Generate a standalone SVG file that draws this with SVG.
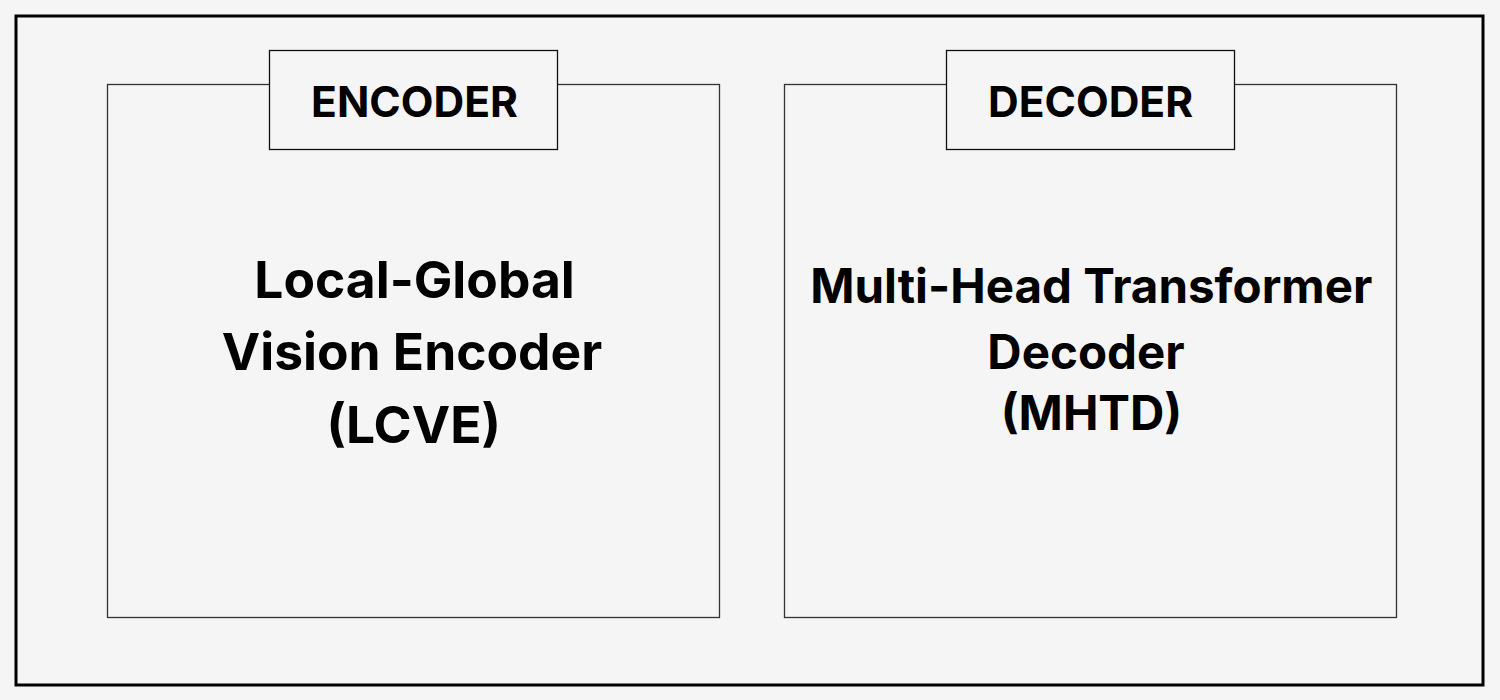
<svg xmlns="http://www.w3.org/2000/svg" width="1500" height="700" viewBox="0 0 1500 700">
<style>
.box{fill:none;stroke:#333;stroke-width:1.3}
.tag{fill:#f5f5f5;stroke:#111;stroke-width:1.3}
.t{font-family:Inter,"Liberation Sans",sans-serif;font-weight:700;fill:#000;text-anchor:middle}
.enc{font-size:51.5px}
.dec{font-size:47.5px}
.lab{font-size:42.5px}
</style>
<rect x="0" y="0" width="1500" height="700" fill="#f5f5f5"/>
<rect x="16" y="16" width="1467" height="669" fill="none" stroke="#000" stroke-width="3"/>
<g id="encoder">
<rect class="box" x="107.5" y="84.5" width="612" height="533"/>
<rect class="tag" x="269.5" y="50.5" width="288" height="99"/>
<text class="t lab" x="414.5" y="116.5">ENCODER</text>
<text class="t enc" x="414.5" y="298">Local-Global</text>
<text class="t enc" x="412" y="370">Vision Encoder</text>
<text class="t enc" x="413.7" y="443">(LCVE)</text>
</g>
<g id="decoder">
<rect class="box" x="784.5" y="84.5" width="612" height="533"/>
<rect class="tag" x="946.5" y="50.5" width="288" height="99"/>
<text class="t lab" x="1090.5" y="116.5">DECODER</text>
<text class="t dec" x="1091.3" y="303.3">Multi-Head Transformer</text>
<text class="t dec" x="1086" y="369.3">Decoder</text>
<text class="t dec" x="1091.5" y="430">(MHTD)</text>
</g>
<g id="connectors"></g>
</svg>
